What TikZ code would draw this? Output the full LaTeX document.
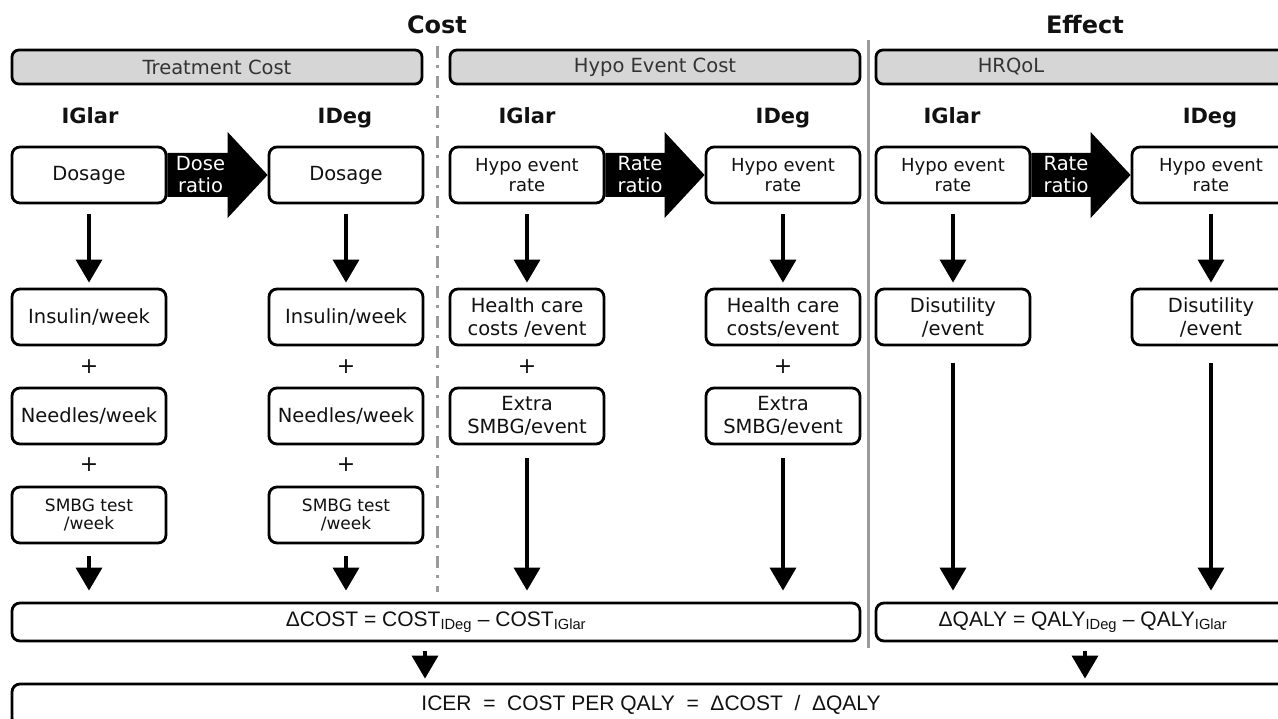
\documentclass[tikz,border=0pt]{standalone}
\usepackage{fontspec}
\setmainfont{DejaVu Sans}
\newfontfamily\formfont{Liberation Sans}
\usetikzlibrary{arrows.meta,calc}
\definecolor{hdrgrey}{HTML}{D6D6D6}
\definecolor{divgrey}{HTML}{9A9A9A}
\definecolor{txt}{HTML}{111111}
\begin{document}
\begin{tikzpicture}[x=1pt,y=-1pt,
  box/.style={draw=black, rounded corners=8pt, line width=2.8pt, fill=white, minimum width=154pt, minimum height=56pt, inner sep=1pt, align=center, text=txt, font=\fontsize{19.5}{22}\selectfont},
  boxm/.style={box, font=\fontsize{19.5}{23}\selectfont},
  boxs/.style={box, font=\fontsize{18}{19.5}\selectfont},
  boxt/.style={box, font=\fontsize{17}{18.5}\selectfont},
  hdr/.style={draw=black, rounded corners=7pt, line width=2.8pt, fill=hdrgrey, minimum width=410pt, minimum height=34pt, inner sep=0pt, text=black!80, font=\fontsize{19.5}{20}\selectfont},
  drug/.style={text=txt, text height=15pt, text depth=0pt, font=\bfseries\fontsize{21}{22}\selectfont},
  ttl/.style={text=txt, font=\bfseries\fontsize{24}{24}\selectfont},
  plus/.style={text=txt, font=\fontsize{22}{22}\selectfont},
  arr/.style={line width=3.5pt, -{Triangle[width=26pt,length=23pt]}},
  ratio/.style={text=white, align=center, font=\fontsize{19.5}{22}\selectfont},
  wide/.style={draw=black, rounded corners=8pt, line width=2.8pt, fill=white, minimum height=38pt, inner sep=0pt, text=txt, font=\formfont\fontsize{21}{22}\selectfont},
  divider/.style={divgrey, line width=3pt}
]
\useasboundingbox (0,0) rectangle (1278,719);
\clip (0,0) rectangle (1278,719);

% dividers
\draw[divider, dash pattern=on 12pt off 7pt on 3pt off 8pt] (437,46) -- (437,592);
\draw[divider] (868,40) -- (868,648);

% titles
\node[ttl] (tcost) at (437,25) {Cost};
\node[ttl] (teff) at (1085,25) {Effect};

% headers
\node[hdr] (htc) at (217,67) {Treatment Cost};
\node[hdr] (hhe) at (655,67) {Hypo Event Cost};
\node[hdr, minimum width=414pt] (hhq) at (1083,67) {};
\node[text=black!80, font=\fontsize{19.5}{20}\selectfont] (hhqt) at (1011,67) {HRQoL};

% drug labels
\node[drug] (g1) at (90,116) {IGlar};
\node[drug] (g2) at (345,116) {IDeg};
\node[drug] (g3) at (527,116) {IGlar};
\node[drug] (g4) at (783,116) {IDeg};
\node[drug] (g5) at (952,116) {IGlar};
\node[drug] (g6) at (1210,116) {IDeg};

% row 1
\node[box] (d1) at (89,175) {Dosage};
\node[box] (d2) at (346,175) {Dosage};
\node[boxs] (h1) at (527,175) {Hypo event\\rate};
\node[boxs] (h2) at (783,175) {Hypo event\\rate};
\node[boxs] (q1) at (953,175) {Hypo event\\rate};
\node[boxs, minimum width=158pt] (q2) at (1211,175) {Hypo event\\rate};

% fat arrows
\fill[black] ([yshift=22pt]d1.east) -- ([xshift=-40pt,yshift=22pt]d2.west) -- ([xshift=-40pt,yshift=43pt]d2.west) -- (d2.west) -- ([xshift=-40pt,yshift=-43pt]d2.west) -- ([xshift=-40pt,yshift=-22pt]d2.west) -- ([yshift=-22pt]d1.east) -- cycle;
\node[ratio] (dr) at ($(d1.east)!0.5!([xshift=-34pt]d2.west)$) {Dose\\ratio};
\fill[black] ([yshift=22pt]h1.east) -- ([xshift=-40pt,yshift=22pt]h2.west) -- ([xshift=-40pt,yshift=43pt]h2.west) -- (h2.west) -- ([xshift=-40pt,yshift=-43pt]h2.west) -- ([xshift=-40pt,yshift=-22pt]h2.west) -- ([yshift=-22pt]h1.east) -- cycle;
\node[ratio] (rr1) at ($(h1.east)!0.5!([xshift=-30pt]h2.west)$) {Rate\\ratio};
\fill[black] ([yshift=22pt]q1.east) -- ([xshift=-40pt,yshift=22pt]q2.west) -- ([xshift=-40pt,yshift=43pt]q2.west) -- (q2.west) -- ([xshift=-40pt,yshift=-43pt]q2.west) -- ([xshift=-40pt,yshift=-22pt]q2.west) -- ([yshift=-22pt]q1.east) -- cycle;
\node[ratio] (rr2) at ($(q1.east)!0.5!([xshift=-30pt]q2.west)$) {Rate\\ratio};

% row 2
\node[box] (i1) at (89,317) {Insulin/week};
\node[box] (i2) at (346,317) {Insulin/week};
\node[boxm] (c1) at (527,317) {Health care\\costs /event};
\node[boxm] (c2) at (783,317) {Health care\\costs/event};
\node[boxm] (u1) at (953,317) {Disutility\\/event};
\node[boxm, minimum width=158pt] (u2) at (1211,317) {Disutility\\/event};

% plus signs
\node[plus] (p1) at (89,367) {+};
\node[plus] (p2) at (346,367) {+};
\node[plus] (p3) at (527,367) {+};
\node[plus] (p4) at (783,367) {+};
\node[plus] (p5) at (89,465) {+};
\node[plus] (p6) at (346,465) {+};

% row 3
\node[box] (n1) at (89,416) {Needles/week};
\node[box] (n2) at (346,416) {Needles/week};
\node[boxm] (e1) at (527,416) {Extra\\SMBG/event};
\node[boxm] (e2) at (783,416) {Extra\\SMBG/event};

% row 4
\node[boxt] (s1) at (89,515) {SMBG test\\/week};
\node[boxt] (s2) at (346,515) {SMBG test\\/week};

% bottom boxes
\node[wide, minimum width=848pt] (dcost) at (436,622) {ΔCOST = COST\textsubscript{IDeg} – COST\textsubscript{IGlar}};
\node[wide, minimum width=414pt] (dqaly) at (1083,622) {ΔQALY = QALY\textsubscript{IDeg} – QALY\textsubscript{IGlar}};
\node[wide, minimum width=1278pt, minimum height=42pt] (icer) at (651,705) {ICER \ = \ COST PER QALY \ = \ ΔCOST \ / \ ΔQALY};

% vertical arrows
\draw[arr, shorten <=10pt, shorten >=5pt] (d1) -- (i1);
\draw[arr, shorten <=10pt, shorten >=5pt] (d2) -- (i2);
\draw[arr, shorten <=10pt, shorten >=5pt] (h1) -- (c1);
\draw[arr, shorten <=10pt, shorten >=5pt] (h2) -- (c2);
\draw[arr, shorten <=10pt, shorten >=5pt] (q1) -- (u1);
\draw[arr, shorten <=10pt, shorten >=5pt] (q2) -- (u2);
\draw[arr, shorten <=12pt, shorten >=11pt] (s1.south) -- (s1.south |- dcost.north);
\draw[arr, shorten <=12pt, shorten >=11pt] (s2.south) -- (s2.south |- dcost.north);
\draw[arr, shorten <=13pt, shorten >=11pt] (e1.south) -- (e1.south |- dcost.north);
\draw[arr, shorten <=13pt, shorten >=11pt] (e2.south) -- (e2.south |- dcost.north);
\draw[arr, shorten <=17pt, shorten >=11pt] (u1.south) -- (u1.south |- dqaly.north);
\draw[arr, shorten <=17pt, shorten >=11pt] (u2.south) -- (u2.south |- dqaly.north);
\draw[arr, shorten <=9pt, shorten >=4pt] ([xshift=-11pt]dcost.south) -- ([xshift=-11pt]dcost.south |- icer.north);
\draw[arr, shorten <=9pt, shorten >=4pt] ([xshift=2pt]dqaly.south) -- ([xshift=2pt]dqaly.south |- icer.north);
\end{tikzpicture}
\end{document}
